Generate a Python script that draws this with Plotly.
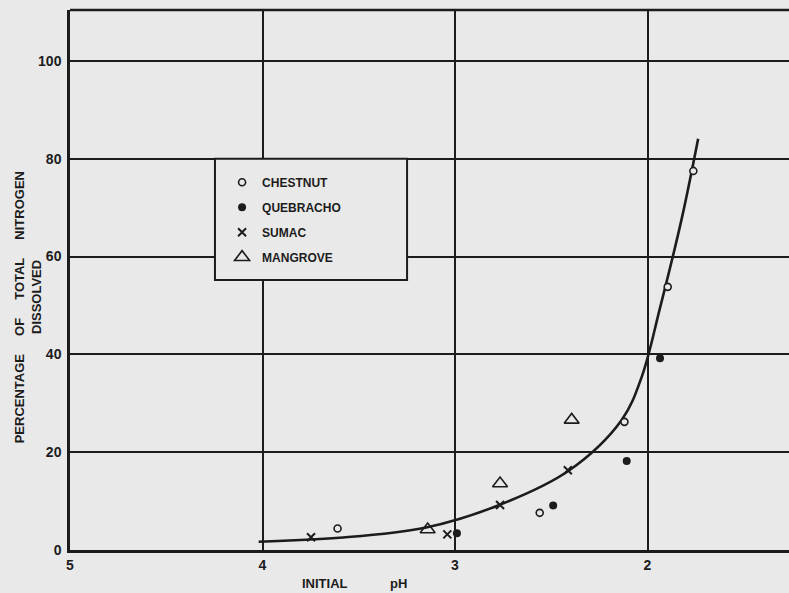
import plotly.graph_objects as go

# ---- data ----
chestnut_ph = [3.61, 2.56, 2.12, 1.895, 1.762]
chestnut_pct = [4.4, 7.6, 26.2, 53.8, 77.5]

quebracho_ph = [2.99, 2.49, 2.108, 1.935]
quebracho_pct = [3.4, 9.1, 18.2, 39.2]

sumac_ph = [3.748, 3.04, 2.766, 2.414]
sumac_pct = [2.6, 3.2, 9.2, 16.3]

mangrove_ph = [3.142, 2.766, 2.394]
mangrove_pct = [4.2, 13.6, 26.6]

curve_ph = [4.02, 3.60, 3.15, 2.77, 2.41, 2.134, 2.03, 1.935, 1.822, 1.737]
curve_pct = [1.7, 2.5, 4.6, 9.2, 16.2, 26.6, 35.4, 49.5, 67.8, 84.1]

x_ticks = [5, 4, 3, 2]
y_ticks = [0, 20, 40, 60, 80, 100]

INK = "#1c1c1c"
BG = "#e9e9e9"
FONT = "Liberation Sans"
NB = "\u00a0"

fig = go.Figure()

fig.add_trace(go.Scatter(
    x=curve_ph, y=curve_pct, mode="lines",
    line=dict(color=INK, width=2.6, shape="spline", smoothing=1.0),
    showlegend=False, hoverinfo="skip"))

fig.add_trace(go.Scatter(
    x=chestnut_ph, y=chestnut_pct, mode="markers", name="CHESTNUT",
    legendgroup="a",
    marker=dict(symbol="circle", size=7, color=BG, line=dict(color=INK, width=1.6))))
fig.add_trace(go.Scatter(
    x=quebracho_ph, y=quebracho_pct, mode="markers", name="QUEBRACHO",
    legendgroup="b",
    marker=dict(symbol="circle", size=8, color=INK, line=dict(color=INK, width=0))))
fig.add_trace(go.Scatter(
    x=sumac_ph, y=sumac_pct, mode="markers", name="SUMAC",
    legendgroup="c",
    marker=dict(symbol="x-thin", size=8, color=INK, line=dict(color=INK, width=2))))
fig.add_trace(go.Scatter(
    x=mangrove_ph, y=mangrove_pct, mode="markers", name="MANGROVE",
    legendgroup="d",
    marker=dict(symbol="triangle-up-open", size=13, color=INK, line=dict(color=INK, width=1.6))))

# legend frame (covers grid lines behind the legend)
fig.add_shape(type="rect", xref="x", yref="y", x0=4.247, x1=3.249, y0=55.2, y1=80,
              fillcolor=BG, line=dict(color=INK, width=2), layer="above")
# top border of the plotting frame
fig.add_shape(type="line", xref="paper", yref="paper", x0=0, x1=1, y0=1, y1=1,
              line=dict(color=INK, width=2.5), layer="above")

fig.update_layout(
    width=789, height=593,
    margin=dict(l=70, r=0, t=10, b=43),
    paper_bgcolor=BG, plot_bgcolor=BG,
    font=dict(family=FONT, color=INK, size=13, weight="bold"),
    showlegend=True,
    legend=dict(x=0.2115, y=0.708, xanchor="left", yanchor="top",
                bgcolor="rgba(0,0,0,0)", borderwidth=0,
                font=dict(size=12, family=FONT, color=INK, weight="bold"),
                traceorder="grouped", tracegroupgap=6, itemwidth=30),
    xaxis=dict(range=[5, 1.265], tickmode="array", tickvals=x_ticks,
               ticktext=[str(v) for v in x_ticks],
               showgrid=True, gridcolor=INK, gridwidth=2,
               showline=True, linecolor=INK, linewidth=2.5,
               zeroline=False, ticks="", ticklabelstandoff=0,
               tickfont=dict(size=14, weight="bold")),
    yaxis=dict(range=[0, 110.4], tickmode="array", tickvals=y_ticks,
               ticktext=[str(v) for v in y_ticks],
               showgrid=True, gridcolor=INK, gridwidth=2,
               showline=True, linecolor=INK, linewidth=2.5,
               zeroline=False, ticks="", ticklabelstandoff=3,
               tickfont=dict(size=14, weight="bold")),
)

sp = NB * 5
fig.add_annotation(xref="paper", yref="paper", x=-0.0705, y=(550 - 307) / 540,
                   xanchor="center", yanchor="middle", showarrow=False, textangle=-90,
                   text="PERCENTAGE" + sp + "OF" + sp + "TOTAL" + sp + "NITROGEN",
                   font=dict(size=13, family=FONT, color=INK, weight="bold"))
fig.add_annotation(xref="paper", yref="paper", x=-0.0473, y=(550 - 297) / 540,
                   xanchor="center", yanchor="middle", showarrow=False, textangle=-90,
                   text="DISSOLVED",
                   font=dict(size=13, family=FONT, color=INK, weight="bold"))
fig.add_annotation(xref="paper", yref="paper", x=(325 - 70) / 719, y=-(583 - 550) / 540,
                   xanchor="center", yanchor="middle", showarrow=False,
                   text="INITIAL", font=dict(size=13, family=FONT, color=INK, weight="bold"))
fig.add_annotation(xref="paper", yref="paper", x=(398 - 70) / 719, y=-(583 - 550) / 540,
                   xanchor="center", yanchor="middle", showarrow=False,
                   text="pH", font=dict(size=13, family=FONT, color=INK, weight="bold"))

fig.write_html(
    "out.html",
    config={"displayModeBar": False},
    post_script="document.body.style.margin='0';document.body.style.overflow='hidden';"
                "document.body.style.background='" + BG + "';")
